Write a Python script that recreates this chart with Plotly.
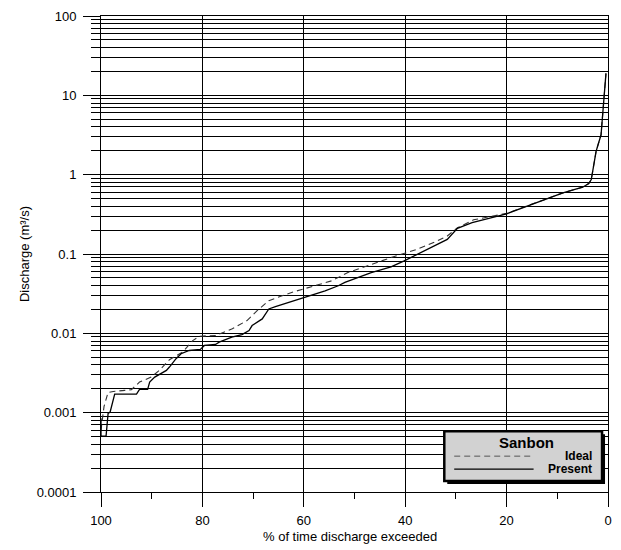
import plotly.graph_objects as go

# ---- data ----
pct_present = [100, 100, 99.0, 98.6, 98.2, 97.3, 93.0, 92.4, 90.8, 90.4, 89.4, 88.1, 87.1, 86.5,
               85.2, 84.2, 82.6, 80.4, 79.6, 77.4, 76.7, 74.2, 72.2, 70.8, 70.2, 68.2, 66.9,
               65.6, 63.0, 60.3, 55.8, 53.2, 51.9, 46.7, 42.8, 40.2, 35.0, 31.7, 29.7, 26.8,
               20.0, 14.1, 8.9, 5.0, 3.8, 3.3, 3.0, 2.35, 1.37, 0.9, 0.4]
q_present = [8.5e-4, 5.07e-4, 5.07e-4, 9.8e-4, 1.02e-3, 1.71e-3, 1.71e-3, 1.97e-3, 1.97e-3,
             2.43e-3, 2.81e-3, 3.1e-3, 3.41e-3, 3.76e-3, 4.79e-3, 5.53e-3, 6.08e-3, 6.26e-3,
             7.03e-3, 7.24e-3, 7.74e-3, 8.93e-3, 9.66e-3, 0.01084, 0.01253, 0.0152, 0.0203,
             0.0217, 0.0245, 0.0284, 0.0344, 0.0398, 0.0438, 0.0584, 0.0689, 0.0819, 0.120,
             0.153, 0.211, 0.248, 0.321, 0.441, 0.589, 0.695, 0.773, 0.868, 1.10, 1.97, 3.18,
             8.3, 18.9]

pct_ideal = [100, 99.4, 98.6, 97.6, 95.3, 94.0, 92.4, 90.1, 88.5, 86.5, 83.9, 81.9, 80.6, 77.4,
             74.1, 71.2, 69.2, 66.9, 62.4, 59.1, 54.5, 51.3, 46.7, 42.8, 39.5, 37.6, 33.7, 31.7,
             29.7, 26.5, 20.0, 14.1, 8.9, 5.0, 3.8, 3.3, 3.0, 2.35, 1.37, 0.9, 0.4]
q_ideal = [6.0e-4, 1.2e-3, 1.8e-3, 1.85e-3, 1.91e-3, 1.95e-3, 2.43e-3, 2.81e-3, 3.41e-3, 4.65e-3,
           5.8e-3, 8.1e-3, 9.2e-3, 9.4e-3, 0.0114, 0.0145, 0.0193, 0.0258, 0.0328, 0.0379,
           0.0459, 0.0584, 0.0745, 0.0901, 0.105, 0.115, 0.146, 0.169, 0.214, 0.27, 0.325,
           0.441, 0.589, 0.695, 0.773, 0.868, 1.10, 1.97, 3.18, 8.3, 18.9]

x_ticks = [100, 80, 60, 40, 20, 0]
y_tickvals = [0.0001, 0.001, 0.01, 0.1, 1, 10, 100]
y_ticktext = ["0.0001", "0.001", "0.01", "0.1", "1", "10", "100"]

station = "Sanbon"
series_names = ["Ideal", "Present"]
x_title = "% of time discharge exceeded"
y_title = "Discharge (m³/s)"

# ---- layout geometry (pixels) ----
W, H = 621, 550
L, R, T, B = 101, 9, 14, 58
PW, PH = W - L - R, H - T - B
FONT = "Liberation Sans, Arial, sans-serif"


def px(x):
    return (x - L) / PW


def py(y):
    return (H - B - y) / PH


fig = go.Figure()
fig.add_trace(go.Scatter(x=pct_ideal, y=q_ideal, mode="lines", name=series_names[0],
                         line=dict(color="#333333", width=1.1, dash="6px,4px")))
fig.add_trace(go.Scatter(x=pct_present, y=q_present, mode="lines", name=series_names[1],
                         line=dict(color="black", width=1.3)))

fig.update_layout(
    width=W, height=H, margin=dict(l=L, r=R, t=T, b=B),
    paper_bgcolor="white", plot_bgcolor="white", showlegend=False,
    font=dict(family=FONT, size=13, color="black"),
)
fig.update_xaxes(
    range=[100, 0], tickvals=x_ticks, showgrid=True, gridcolor="black", gridwidth=1,
    showline=True, linecolor="black", linewidth=1, mirror=True,
    ticks="outside", ticklen=14, tickcolor="black", ticklabelstandoff=2,
    ticklabeloverflow="allow",
    minor=dict(dtick=10, ticks="outside", ticklen=6, tickcolor="black", showgrid=False),
    zeroline=False,
)
fig.update_yaxes(
    type="log", range=[-4, 2.0], tickvals=y_tickvals, ticktext=y_ticktext,
    showgrid=True, gridcolor="black", gridwidth=1,
    showline=True, linecolor="black", linewidth=1, mirror=True,
    ticks="outside", ticklen=17, tickcolor="black", ticklabelstandoff=4,
    ticklabeloverflow="allow",
    minor=dict(dtick="D1", ticks="outside", ticklen=9, tickcolor="black",
               showgrid=True, gridcolor="black", gridwidth=1),
    zeroline=False,
    title=dict(text=y_title, standoff=4, font=dict(size=13)),
)

# x-axis title placed at its pixel position
fig.add_annotation(xref="paper", yref="paper", x=px(352), y=py(537), text=x_title,
                   showarrow=False, font=dict(size=13, family=FONT),
                   xanchor="center", yanchor="middle")

# ---- hand-drawn legend box ----
bx0, bx1, by0, by1 = 447, 606, 431, 481
fig.add_shape(type="rect", xref="paper", yref="paper",
              x0=px(bx0 + 3), x1=px(bx1 + 3), y0=py(by1 + 3), y1=py(by0 + 3),
              fillcolor="black", line=dict(width=0))
fig.add_shape(type="rect", xref="paper", yref="paper",
              x0=px(bx0), x1=px(bx1), y0=py(by1), y1=py(by0),
              fillcolor="#d2d2d2", line=dict(color="black", width=2.5))
fig.add_annotation(xref="paper", yref="paper", x=px(530), y=py(442), text="<b>" + station + "</b>",
                   showarrow=False, font=dict(size=15, family=FONT), xanchor="center", yanchor="middle")
fig.add_shape(type="line", xref="paper", yref="paper", x0=px(457), x1=px(537), y0=py(456), y1=py(456),
              line=dict(color="#555555", width=1, dash="6px,4px"))
fig.add_shape(type="line", xref="paper", yref="paper", x0=px(457), x1=px(537), y0=py(469), y1=py(469),
              line=dict(color="black", width=1.2))
fig.add_annotation(xref="paper", yref="paper", x=px(598), y=py(456), text="<b>" + series_names[0] + "</b>",
                   showarrow=False, font=dict(size=12, family=FONT), xanchor="right", yanchor="middle")
fig.add_annotation(xref="paper", yref="paper", x=px(598), y=py(469), text="<b>" + series_names[1] + "</b>",
                   showarrow=False, font=dict(size=12, family=FONT), xanchor="right", yanchor="middle")

fig.write_html(
    "out.html",
    config={"displayModeBar": False},
    post_script="document.body.style.margin='0';document.body.style.padding='0';"
                "document.documentElement.style.overflow='hidden';",
)
